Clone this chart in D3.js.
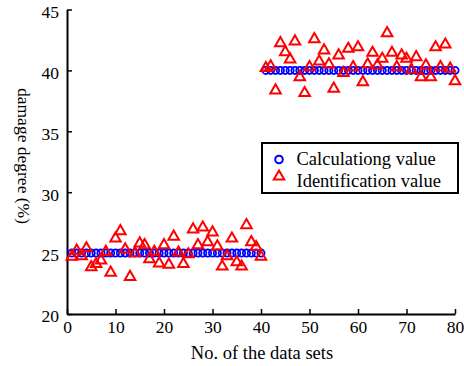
<!DOCTYPE html>
<html>
<head>
<meta charset="utf-8">
<script src="https://cdn.jsdelivr.net/npm/d3@7"></script>
<style>
  html, body { margin: 0; padding: 0; background: #fff; }
</style>
</head>
<body>
<svg id="chart" width="464" height="366"></svg>
<script>
// data sets 1..80
const calcValues = [].concat(Array(40).fill(25), Array(40).fill(40));
const identValues = [
  24.7, 25.2, 24.75, 25.4, 23.85, 24.1, 24.4, 25.1, 23.4, 26.2,
  26.8, 25.3, 23.05, 25.0, 25.8, 25.65, 24.5, 25.1, 24.15, 25.65,
  24.05, 26.35, 25.05, 24.1, 24.9, 26.95, 25.65, 27.1, 25.9, 26.7,
  25.55, 23.9, 24.75, 26.2, 24.25, 23.9, 27.3, 25.9, 25.5, 24.7,
  40.19, 40.33, 38.36, 42.24, 41.5, 40.9, 42.38, 39.45, 38.14, 40.27,
  42.57, 40.74, 41.64, 40.49, 38.5, 41.23, 39.78, 41.78, 40.27, 41.9,
  39.04, 40.49, 41.45, 40.41, 40.96, 43.06, 41.45, 40.27, 41.23, 40.96,
  40.06, 41.09, 39.45, 40.41, 39.45, 41.9, 40.27, 42.13, 40.14, 39.12
];
const xTicks = [0, 10, 20, 30, 40, 50, 60, 70, 80];
const yTicks = [20, 25, 30, 35, 40, 45];
const legendLabels = ["Calculationg value", "Identification value"];

const FONT = "'Liberation Serif', 'Times New Roman', serif";
const svg = d3.select("#chart");
const mLeft = 67, mRight = 455, mTop = 9.5, mBottom = 314;

const x = d3.scaleLinear().domain([0, 80]).range([mLeft, mRight]);
const y = d3.scaleLinear().domain([20, 45]).range([mBottom, mTop]);

// axes (ticks pointing inward)
const gx = svg.append("g")
  .attr("transform", `translate(0,${mBottom})`)
  .call(d3.axisBottom(x).tickValues(xTicks).tickSizeInner(-5).tickSizeOuter(0).tickPadding(6));
const gy = svg.append("g")
  .attr("transform", `translate(${mLeft},0)`)
  .call(d3.axisLeft(y).tickValues(yTicks).tickSizeInner(-5).tickSizeOuter(0).tickPadding(8));

[gx, gy].forEach(g => {
  g.attr("font-family", FONT).attr("font-size", 17.5);
  g.select(".domain").attr("stroke", "#000").attr("stroke-width", 2);
  g.selectAll(".tick line").attr("stroke", "#000").attr("stroke-width", 1.5);
  g.selectAll(".tick text").attr("fill", "#000");
});
gx.selectAll(".tick text").attr("dy", "0.72em");
gy.selectAll(".tick text").attr("dy", "0.45em");

// axis titles
svg.append("text")
  .attr("x", 262)
  .attr("y", 359)
  .attr("text-anchor", "middle")
  .attr("font-family", FONT)
  .attr("font-size", 18.5)
  .text("No. of the data sets");
svg.append("text")
  .attr("transform", "translate(18,156) rotate(90)")
  .attr("text-anchor", "middle")
  .attr("font-family", FONT)
  .attr("font-size", 17.5)
  .text("damage degree (%)");

const tri = d3.symbol().type(d3.symbolTriangle).size(48);

// calculated values: blue circles
svg.append("g").selectAll("circle")
  .data(calcValues)
  .enter().append("circle")
  .attr("cx", (d, i) => x(i + 1))
  .attr("cy", d => y(d))
  .attr("r", 3.6)
  .attr("fill", "none")
  .attr("stroke", "#0000ff")
  .attr("stroke-width", 1.8);

// identified values: red triangles
svg.append("g").selectAll("path")
  .data(identValues)
  .enter().append("path")
  .attr("d", tri)
  .attr("transform", (d, i) => `translate(${x(i + 1)},${y(d)})`)
  .attr("fill", "none")
  .attr("stroke", "#ff0000")
  .attr("stroke-width", 2);

// legend
const lg = svg.append("g").attr("transform", "translate(262,143)");
lg.append("rect")
  .attr("width", 196).attr("height", 50)
  .attr("fill", "#fff").attr("stroke", "#000").attr("stroke-width", 2);
lg.append("circle")
  .attr("cx", 17).attr("cy", 16.5).attr("r", 3.8)
  .attr("fill", "none").attr("stroke", "#0000ff").attr("stroke-width", 2);
lg.append("path")
  .attr("d", tri)
  .attr("transform", "translate(17,33.5)")
  .attr("fill", "none").attr("stroke", "#ff0000").attr("stroke-width", 2);
lg.selectAll("text.lbl")
  .data(legendLabels)
  .enter().append("text")
  .attr("class", "lbl")
  .attr("x", 34.5)
  .attr("y", (d, i) => 21.5 + i * 22)
  .attr("font-family", FONT)
  .attr("font-size", 18.5)
  .text(d => d);
</script>
</body>
</html>
